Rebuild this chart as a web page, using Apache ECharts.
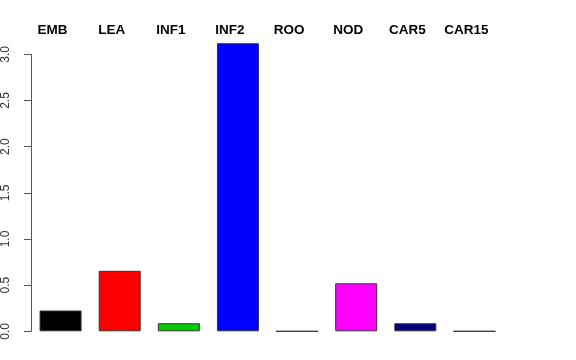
<!DOCTYPE html>
<html>
<head>
<meta charset="utf-8">
<script src="https://cdn.jsdelivr.net/npm/echarts@6/dist/echarts.min.js"></script>
<style>html,body{margin:0;padding:0;background:#fff}#c{width:576px;height:360px}</style>
</head>
<body>
<div id="c"></div>
<script>
const categories = ["EMB", "LEA", "INF1", "INF2", "ROO", "NOD", "CAR5", "CAR15"];
const values = [0.225, 0.655, 0.087, 3.12, 0, 0.52, 0.087, 0];
const barColors = ["#000000", "#FF0000", "#00CD00", "#0000FF", "#00FFFF", "#FF00FF", "#000080", "#FFFFFF"];
const yTicks = [0, 0.5, 1.0, 1.5, 2.0, 2.5, 3.0];

const chart = echarts.init(document.getElementById('c'), null, {renderer: 'canvas'});
chart.setOption({
  animation: false,
  backgroundColor: '#ffffff',
  grid: {left: 29.5, top: 54.3, width: 474.5, bottom: 28.7, containLabel: false},
  xAxis: [{
    type: 'category',
    position: 'top',
    data: categories,
    axisLine: {show: false},
    axisTick: {show: false},
    splitLine: {show: false},
    axisLabel: {
      interval: 0,
      margin: 17,
      formatter: v => '{a|' + v + '}',
      rich: {a: {fontFamily: 'Liberation Sans', fontWeight: 'bold', fontSize: 13.5, color: '#000', padding: [0, 16, 0, 0]}}
    }
  }],
  yAxis: {
    type: 'value',
    min: 0, max: 3, interval: 0.5,
    axisLine: {show: true, lineStyle: {color: '#555', width: 1}},
    axisTick: {show: true, length: 7, lineStyle: {color: '#555'}},
    splitLine: {show: false},
    axisLabel: {
      rotate: 90,
      margin: 19,
      fontFamily: 'Liberation Sans',
      fontSize: 12,
      color: '#333',
      formatter: v => v.toFixed(1)
    }
  },
  series: [{
    type: 'bar',
    clip: false,
    barWidth: 42,
    data: values.map((v, i) => ({value: v, itemStyle: {color: barColors[i]}})),
    itemStyle: {borderColor: '#333', borderWidth: 1}
  }]
});
</script>
</body>
</html>
